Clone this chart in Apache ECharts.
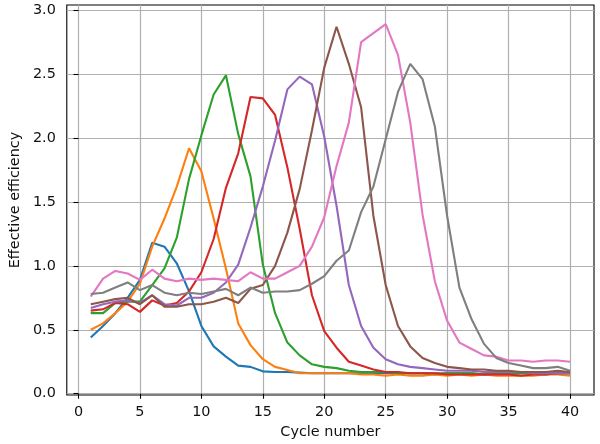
<!DOCTYPE html>
<html>
<head>
<meta charset="utf-8">
<script src="https://cdn.jsdelivr.net/npm/echarts@6/dist/echarts.min.js"></script>
<style>
  html, body { margin: 0; padding: 0; background: #fff; }
  #chart { width: 600px; height: 444px; }
</style>
</head>
<body>
<div id="chart"></div>
<script>
// cycles 1..40
const cycles = [1,2,3,4,5,6,7,8,9,10,11,12,13,14,15,16,17,18,19,20,
                21,22,23,24,25,26,27,28,29,30,31,32,33,34,35,36,37,38,39,40];
const xTicks = [0, 5, 10, 15, 20, 25, 30, 35, 40];
const yTicks = [0, 0.5, 1.0, 1.5, 2.0, 2.5, 3.0];

const blue   = [0.44,0.53,0.63,0.75,0.89,1.18,1.15,1.02,0.80,0.53,0.37,0.29,0.22,0.21,0.175,0.17,0.17,0.165,0.16,0.16,
                0.16,0.16,0.16,0.16,0.16,0.16,0.16,0.16,0.15,0.16,0.16,0.16,0.15,0.16,0.15,0.16,0.16,0.15,0.16,0.16];
const orange = [0.50,0.55,0.63,0.72,0.86,1.15,1.37,1.62,1.92,1.74,1.37,0.98,0.55,0.38,0.27,0.21,0.185,0.16,0.16,0.16,
                0.16,0.16,0.15,0.15,0.14,0.15,0.14,0.14,0.15,0.14,0.15,0.14,0.15,0.14,0.14,0.14,0.14,0.15,0.15,0.14];
const green  = [0.63,0.63,0.71,0.72,0.72,0.85,0.98,1.22,1.68,2.02,2.34,2.49,2.03,1.70,1.01,0.63,0.40,0.30,0.23,0.21,
                0.20,0.18,0.17,0.17,0.17,0.16,0.16,0.16,0.16,0.16,0.16,0.16,0.15,0.16,0.16,0.16,0.16,0.16,0.16,0.16];
const red    = [0.65,0.66,0.71,0.70,0.64,0.73,0.69,0.71,0.80,0.95,1.21,1.61,1.88,2.32,2.31,2.18,1.77,1.29,0.77,0.49,
                0.36,0.25,0.22,0.19,0.17,0.17,0.16,0.16,0.16,0.15,0.15,0.15,0.15,0.15,0.15,0.14,0.15,0.15,0.16,0.16];
const purple = [0.67,0.70,0.72,0.73,0.71,0.77,0.70,0.69,0.75,0.75,0.79,0.87,1.01,1.30,1.62,1.98,2.38,2.48,2.42,2.01,
                1.47,0.85,0.53,0.36,0.27,0.23,0.21,0.20,0.19,0.18,0.18,0.18,0.17,0.17,0.17,0.17,0.16,0.16,0.16,0.16];
const brown  = [0.70,0.72,0.74,0.75,0.70,0.77,0.68,0.68,0.70,0.70,0.72,0.75,0.71,0.82,0.85,1.00,1.26,1.60,2.06,2.55,
                2.87,2.58,2.24,1.39,0.85,0.53,0.37,0.28,0.24,0.21,0.20,0.19,0.19,0.18,0.18,0.17,0.17,0.17,0.18,0.17];
const pink   = [0.76,0.90,0.96,0.94,0.89,0.97,0.90,0.88,0.90,0.89,0.90,0.89,0.88,0.95,0.90,0.90,0.95,1.00,1.15,1.38,
                1.78,2.12,2.75,2.82,2.89,2.65,2.12,1.40,0.88,0.57,0.40,0.35,0.30,0.29,0.26,0.26,0.25,0.26,0.26,0.25];
const gray   = [0.78,0.79,0.83,0.87,0.81,0.85,0.79,0.77,0.79,0.78,0.80,0.82,0.77,0.83,0.79,0.80,0.80,0.81,0.86,0.92,
                1.04,1.12,1.42,1.62,1.99,2.36,2.58,2.46,2.09,1.39,0.83,0.58,0.39,0.28,0.24,0.22,0.20,0.20,0.21,0.18];

const allSeries = [blue, orange, green, red, purple, brown, pink, gray];
const colors = ['#1f77b4','#ff7f0e','#2ca02c','#d62728','#9467bd','#8c564b','#e377c2','#7f7f7f'];

const font = 'DejaVu Sans';
const fs = 14.4;

var myChart = echarts.init(document.getElementById('chart'), null, { renderer: 'canvas' });
myChart.setOption({
    animation: false,
    backgroundColor: '#fff',
    grid: {
        left: 66, right: 6, top: 5, bottom: 46,
        show: true,
        borderColor: '#000',
        borderWidth: 1.1
    },
    xAxis: {
        type: 'value',
        min: -0.95,
        max: 41.95,
        name: 'Cycle number',
        nameLocation: 'middle',
        nameGap: 30,
        nameTextStyle: { fontFamily: font, fontSize: fs, color: '#111' },
        axisLine: { show: false },
        axisTick: { show: true, inside: false, length: 5, customValues: xTicks, lineStyle: { color: '#000', width: 1.1 } },
        axisLabel: { customValues: xTicks, fontFamily: font, fontSize: fs, color: '#111', margin: 10 },
        splitLine: { show: true, lineStyle: { color: '#b0b0b0', width: 1.2 } }
    },
    yAxis: {
        type: 'value',
        min: -0.01,
        max: 3.04,
        name: 'Effective efficiency',
        nameLocation: 'middle',
        nameGap: 38,
        nameTextStyle: { fontFamily: font, fontSize: fs, color: '#111' },
        axisLine: { show: false },
        axisTick: { show: true, inside: false, length: 5, customValues: yTicks, lineStyle: { color: '#000', width: 1.1 } },
        axisLabel: {
            customValues: yTicks, fontFamily: font, fontSize: fs, color: '#111', margin: 11,
            formatter: function (v) { return v.toFixed(1); }
        },
        splitLine: { show: true, lineStyle: { color: '#b0b0b0', width: 1.2 } }
    },
    series: allSeries.map(function (vals, i) {
        return {
            type: 'line',
            data: cycles.map(function (c, j) { return [c, vals[j]]; }),
            showSymbol: false,
            lineStyle: { color: colors[i], width: 2.1 },
            itemStyle: { color: colors[i] },
            z: 2 + i
        };
    })
});
</script>
</body>
</html>
